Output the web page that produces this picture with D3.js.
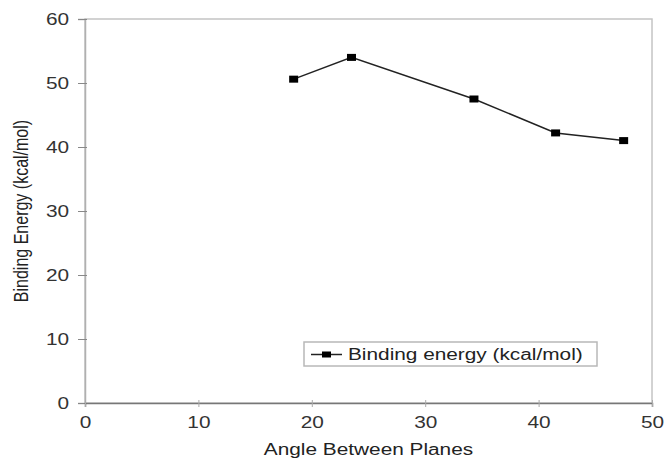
<!DOCTYPE html>
<html>
<head>
<meta charset="utf-8">
<script src="https://cdn.jsdelivr.net/npm/d3@7"></script>
<style>
  body { margin: 0; background: #fff; }
  svg { font-family: "Liberation Sans", Arial, sans-serif; }
</style>
</head>
<body>
<svg id="chart" width="665" height="459"></svg>
<script>
// data
const angles = [18.4, 23.5, 34.3, 41.5, 47.5];
const energies = [50.6, 54.0, 47.5, 42.2, 41.0];
const x_ticks = [0, 10, 20, 30, 40, 50];
const y_ticks = [0, 10, 20, 30, 40, 50, 60];
const series_name = "Binding energy (kcal/mol)";

const svg = d3.select("#chart");
const width = 665;
const height = 459;
const margins = { top: 19, right: 13, bottom: 56, left: 85 };
const stretch_k = 1.3; // the source picture is wider than tall

// widen text horizontally like the scanned original
function stretch(sel, k) {
    sel.each(function () {
        const len = this.getComputedTextLength();
        d3.select(this)
            .attr("textLength", len * k)
            .attr("lengthAdjust", "spacingAndGlyphs");
    });
}

const x_scale = d3.scaleLinear()
    .domain([0, 50])
    .range([margins.left, width - margins.right]);

const y_scale = d3.scaleLinear()
    .domain([0, 60])
    .range([height - margins.bottom, margins.top]);

// plot frame (top + right)
svg.append("rect")
    .attr("x", x_scale(0))
    .attr("y", y_scale(60))
    .attr("width", x_scale(50) - x_scale(0))
    .attr("height", y_scale(0) - y_scale(60))
    .attr("fill", "none")
    .attr("stroke", "#c4c4c4")
    .attr("stroke-width", 1.5);

// y axis
const y_axis = svg.append("g")
    .attr("transform", `translate(${x_scale(0)},0)`)
    .call(d3.axisLeft(y_scale).tickValues(y_ticks).tickSize(7).tickPadding(9));
y_axis.select(".domain").attr("stroke", "#b0b0b0").attr("stroke-width", 1.5);
y_axis.selectAll(".tick line").attr("stroke", "#888").attr("x2", -7).attr("x1", 2);
y_axis.selectAll(".tick text")
    .style("font-size", "16px")
    .attr("fill", "#333")
    .call(stretch, stretch_k);

// x axis
const x_axis = svg.append("g")
    .attr("transform", `translate(0,${y_scale(0)})`)
    .call(d3.axisBottom(x_scale).tickValues(x_ticks).tickSize(4).tickPadding(10));
x_axis.select(".domain").attr("stroke", "#777").attr("stroke-width", 1.5);
x_axis.selectAll(".tick line").attr("stroke", "#aaa").attr("y1", -3);
x_axis.selectAll(".tick text")
    .style("font-size", "16px")
    .attr("fill", "#333")
    .call(stretch, stretch_k);

// axis titles
svg.append("text")
    .attr("x", (x_scale(0) + x_scale(50)) / 2)
    .attr("y", 455)
    .attr("text-anchor", "middle")
    .style("font-size", "16px")
    .attr("fill", "#222")
    .text("Angle Between Planes")
    .call(stretch, stretch_k);

svg.append("text")
    .attr("transform", `translate(28,${(y_scale(0) + y_scale(60)) / 2}) rotate(-90) scale(1,1.25)`)
    .attr("text-anchor", "middle")
    .style("font-size", "16px")
    .attr("fill", "#222")
    .text("Binding Energy (kcal/mol)");

// line + markers
const points = angles.map((a, i) => ({ x: a, y: energies[i] }));

const line = d3.line()
    .x(d => x_scale(d.x))
    .y(d => y_scale(d.y));

svg.append("path")
    .datum(points)
    .attr("d", line)
    .attr("fill", "none")
    .attr("stroke", "#222")
    .attr("stroke-width", 1.5);

svg.append("g")
    .selectAll("rect")
    .data(points)
    .join("rect")
    .attr("x", d => x_scale(d.x) - 4.5)
    .attr("y", d => y_scale(d.y) - 3.5)
    .attr("width", 9)
    .attr("height", 7)
    .attr("fill", "#000");

// legend
const legend = svg.append("g");
legend.append("rect")
    .attr("x", 304)
    .attr("y", 342)
    .attr("width", 293)
    .attr("height", 24)
    .attr("fill", "#fff")
    .attr("stroke", "#b8b8b8")
    .attr("stroke-width", 1.5);

legend.append("line")
    .attr("x1", 311)
    .attr("x2", 342)
    .attr("y1", 354.5)
    .attr("y2", 354.5)
    .attr("stroke", "#222")
    .attr("stroke-width", 1.5);

legend.append("rect")
    .attr("x", 322)
    .attr("y", 351.5)
    .attr("width", 9)
    .attr("height", 6)
    .attr("fill", "#000");

legend.append("text")
    .attr("x", 348)
    .attr("y", 360)
    .style("font-size", "16px")
    .attr("fill", "#222")
    .text(series_name)
    .call(stretch, stretch_k);
</script>
</body>
</html>
